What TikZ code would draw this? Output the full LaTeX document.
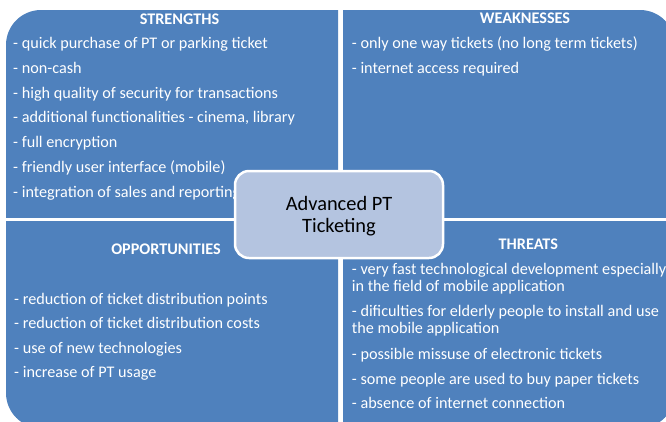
\documentclass[tikz,border=0pt]{standalone}
\usepackage{fontspec}
\setmainfont{Carlito}
\definecolor{quadblue}{RGB}{79,129,189}
\definecolor{coreblue}{RGB}{180,196,224}
\newcommand\swotbody{\fontsize{16.2}{19}\selectfont}
\newcommand\swothead{\fontsize{16.2}{19}\selectfont\bfseries}
\newcommand\swotcore{\fontsize{20.4}{22}\selectfont}
\tikzset{
  quad/.style={fill=quadblue, rounded corners=35pt},
  item/.style={anchor=base west, inner sep=0pt, text=white, font=\swotbody},
  head/.style={anchor=base, inner sep=0pt, text=white, font=\swothead},
  corebox/.style={draw=white, line width=2.5pt, fill=coreblue, rounded corners=14pt,
    minimum width=208pt, minimum height=87pt, inner sep=0pt},
  corelbl/.style={anchor=base, inner sep=0pt, text=black, font=\swotcore},
}
\begin{document}
\begin{tikzpicture}[x=1pt, y=-1pt]
\useasboundingbox (0,0) rectangle (666,421);
\clip (0,0) rectangle (666,421);

% four quadrants cut from one rounded block
\begin{scope}
  \clip (6,10) rectangle (338,217);
  \fill[quad] (6,10) rectangle (675,428);
\end{scope}
\begin{scope}
  \clip (343,10) rectangle (675,217);
  \fill[quad] (6,10) rectangle (675,428);
\end{scope}
\begin{scope}
  \clip (6,221) rectangle (338,428);
  \fill[quad] (6,10) rectangle (675,428);
\end{scope}
\begin{scope}
  \clip (343,221) rectangle (675,428);
  \fill[quad] (6,10) rectangle (675,428);
\end{scope}

% strengths
\node[head] (sh) at (179.5,24) {STRENGTHS};
\node[item] (s1) at (13,48.5) {- quick purchase of PT or parking ticket};
\node[item] (s2) at (13,73.3) {- non-cash};
\node[item] (s3) at (13,98.1) {- high quality of security for transactions};
\node[item] (s4) at (13,122.9) {- additional functionalities - cinema, library};
\node[item] (s5) at (13,147.7) {- full encryption};
\node[item] (s6) at (13,172.5) {- friendly user interface (mobile)};
\node[item] (s7) at (13,197.3) {- integration of sales and reporting};

% weaknesses
\node[head] (wh) at (525,23) {WEAKNESSES};
\node[item] (w1) at (351.7,48.5) {- only one way tickets (no long term tickets)};
\node[item] (w2) at (351.7,73.3) {- internet access required};

% opportunities
\node[head] (oh) at (166,254) {OPPORTUNITIES};
\node[item] (o1) at (14,304) {- reduction of ticket distribution points};
\node[item] (o2) at (14,328.6) {- reduction of ticket distribution costs};
\node[item] (o3) at (14,353.2) {- use of new technologies};
\node[item] (o4) at (14,377.8) {- increase of PT usage};

% threats
\node[head] (th) at (528.3,249.3) {THREATS};
\node[item] (t1) at (351.7,274) {- very fast technological development especially};
\node[item] (t1b) at (351.7,291.7) {in the field of mobile application};
\node[item] (t2) at (351.7,316) {- dificulties for elderly people to install and use};
\node[item] (t2b) at (351.7,333.3) {the mobile application};
\node[item] (t3) at (351.7,359) {- possible missuse of electronic tickets};
\node[item] (t4) at (351.7,384) {- some people are used to buy paper tickets};
\node[item] (t5) at (351.7,408.3) {- absence of internet connection};

% central topic
\node[corebox] (core) at (339,214.5) {};
\node[corelbl] (core1) at (339,210) {Advanced PT};
\node[corelbl] (core2) at (339,232) {Ticketing};
\end{tikzpicture}
\end{document}
